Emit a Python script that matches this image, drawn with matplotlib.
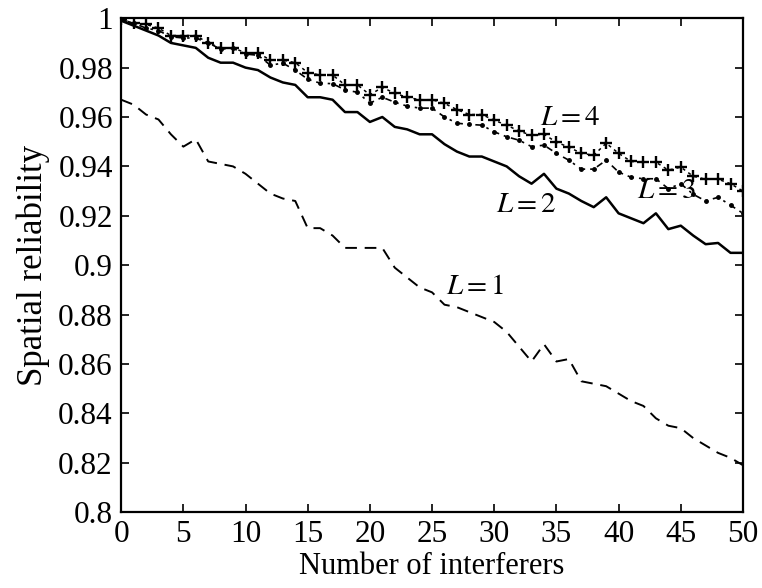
import numpy as np
import matplotlib
matplotlib.use("Agg")
import matplotlib.pyplot as plt

plt.rcParams['font.family'] = ['Liberation Serif', 'DejaVu Serif']
plt.rcParams['mathtext.fontset'] = 'stix'

# number of interferers
x = np.arange(0, 51)

# spatial reliability per diversity order L
rel_L1 = [0.967, 0.965, 0.961, 0.959, 0.953, 0.948, 0.951, 0.942, 0.941, 0.940,
          0.937, 0.933, 0.929, 0.927, 0.926, 0.915, 0.915, 0.912, 0.907, 0.907,
          0.907, 0.907, 0.899, 0.895, 0.891, 0.889, 0.884, 0.883, 0.881, 0.879,
          0.877, 0.873, 0.867, 0.861, 0.868, 0.861, 0.862, 0.853, 0.852, 0.851,
          0.848, 0.845, 0.843, 0.838, 0.835, 0.834, 0.830, 0.827, 0.824, 0.822,
          0.819]
rel_L2 = [0.999, 0.997, 0.995, 0.993, 0.990, 0.989, 0.988, 0.984, 0.982, 0.982,
          0.980, 0.979, 0.976, 0.974, 0.973, 0.968, 0.968, 0.967, 0.962, 0.962,
          0.958, 0.960, 0.956, 0.955, 0.953, 0.953, 0.949, 0.946, 0.944, 0.944,
          0.942, 0.940, 0.936, 0.933, 0.937, 0.931, 0.929, 0.926, 0.9235, 0.9275,
          0.921, 0.919, 0.917, 0.921, 0.9146, 0.916, 0.912, 0.9085, 0.909, 0.905,
          0.905]
rel_L3 = [0.9995, 0.998, 0.996, 0.995, 0.9925, 0.992, 0.992, 0.990, 0.9875, 0.9878,
          0.9855, 0.985, 0.981, 0.9818, 0.979, 0.9753, 0.9737, 0.9735, 0.971, 0.970,
          0.9656, 0.968, 0.966, 0.9644, 0.9636, 0.9636, 0.960, 0.9575, 0.957, 0.9567,
          0.954, 0.952, 0.9506, 0.948, 0.9486, 0.9453, 0.9425, 0.9389, 0.9389, 0.9425,
          0.9377, 0.9356, 0.935, 0.935, 0.931, 0.933, 0.9287, 0.926, 0.9275, 0.9243,
          0.921]
rel_L4 = [0.9995, 0.998, 0.9975, 0.996, 0.993, 0.993, 0.993, 0.990, 0.988, 0.988,
          0.986, 0.986, 0.983, 0.983, 0.982, 0.978, 0.977, 0.977, 0.973, 0.973,
          0.969, 0.972, 0.9696, 0.968, 0.967, 0.967, 0.9655, 0.963, 0.961, 0.961,
          0.9587, 0.9567, 0.9543, 0.9526, 0.953, 0.9498, 0.9478, 0.9453, 0.9445, 0.9494,
          0.9453, 0.942, 0.9417, 0.9417, 0.9385, 0.9397, 0.936, 0.9348, 0.9348, 0.933,
          0.930]

labels = ['$L = 1$', '$L = 2$', '$L = 3$', '$L = 4$']
label_pos = [(28.5, 0.891), (32.6, 0.9243), (43.9, 0.930), (36.1, 0.9595)]

fig = plt.figure(figsize=(7.62, 5.88), dpi=100)
ax = fig.add_axes([0.159, 0.129, 0.816, 0.840])

ax.plot(x, rel_L1, color='black', lw=1.4, linestyle=(0, (6, 4)))
ax.plot(x, rel_L2, color='black', lw=1.8, linestyle='-')
ax.plot(x, rel_L3, color='black', lw=1.2, linestyle=(0, (4, 3, 1.5, 3)),
        marker='.', markersize=5)
ax.plot(x, rel_L4, color='black', lw=1.1, linestyle=(0, (2, 2.5)),
        marker='+', markersize=9, markeredgewidth=1.7)

for lab, (lx, ly) in zip(labels, label_pos):
    ax.text(lx, ly, lab, fontsize=21, ha='center', va='center')

ax.set_xlim(0, 50)
ax.set_ylim(0.8, 1.0)
ax.set_xticks(np.arange(0, 51, 5))
ax.set_yticks(np.arange(0.8, 1.001, 0.02))
ax.set_yticklabels(['0.8', '0.82', '0.84', '0.86', '0.88', '0.9',
                    '0.92', '0.94', '0.96', '0.98', '1'])
ax.tick_params(direction='in', top=True, right=True, length=6, width=1.2,
               labelsize=22.5, pad=6)
for sp in ax.spines.values():
    sp.set_linewidth(1.6)

ax.set_xlabel('Number of interferers', fontsize=22, labelpad=2)
ax.set_ylabel('Spatial reliability', fontsize=25, labelpad=6)

fig.savefig('out.png', dpi=100)
